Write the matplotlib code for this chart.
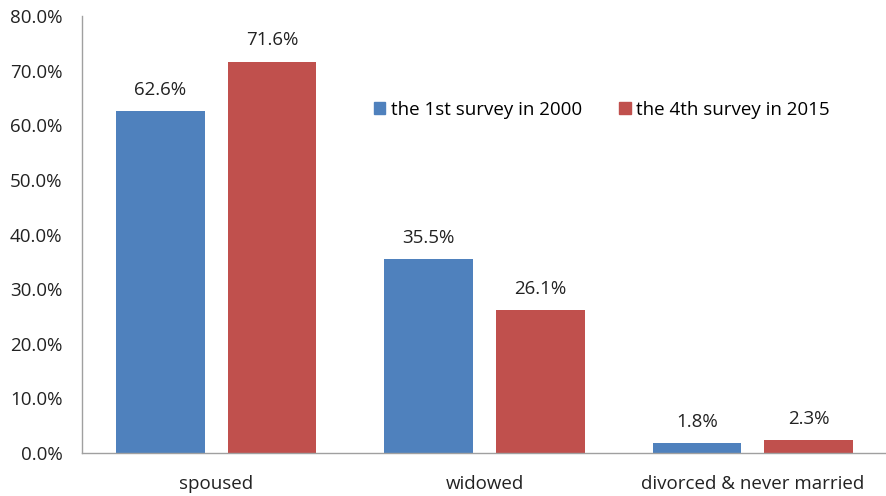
import matplotlib
matplotlib.use("Agg")
import matplotlib.pyplot as plt
import numpy as np
from matplotlib.patches import Patch

categories = ["spoused", "widowed", "divorced & never married"]
series_names = ["the 1st survey in 2000", "the 4th survey in 2015"]
survey_2000 = [62.6, 35.5, 1.8]
survey_2015 = [71.6, 26.1, 2.3]
yticks = [0, 10, 20, 30, 40, 50, 60, 70, 80]

blue = "#4F81BD"
red = "#C0504D"

plt.rcParams['font.family'] = ['Open Sans', 'DejaVu Sans']
FS = 13.5

fig = plt.figure(figsize=(8.87, 4.96), dpi=100)
ax = fig.add_axes([82/887, 1-453/496, (887-82)/887, (453-16)/496])

x = np.arange(len(categories))
w = 0.331
off = 0.208
b1 = ax.bar(x - off, survey_2000, w, color=blue)
b2 = ax.bar(x + off, survey_2015, w, color=red)

for bars, vals in ((b1, survey_2000), (b2, survey_2015)):
    for b, v in zip(bars, vals):
        ax.annotate(f"{v:.1f}%", (b.get_x() + b.get_width()/2, v),
                    xytext=(0, 9), textcoords="offset points",
                    ha="center", va="bottom", fontsize=FS, color="#222222")

ax.set_xlim(-0.5, 2.5)
ax.set_ylim(0, 80)
ax.set_yticks(yticks)
ax.set_yticklabels([f"{t:.1f}%" for t in yticks], fontsize=FS, color="#222222")
ax.set_xticks(x)
ax.set_xticklabels(categories, fontsize=FS, color="#222222")
ax.tick_params(axis='x', length=0, pad=16)
ax.tick_params(axis='y', length=0, pad=14)

for s in ("top", "right"):
    ax.spines[s].set_visible(False)
for s in ("left", "bottom"):
    ax.spines[s].set_color("#A0A0A0")
    ax.spines[s].set_linewidth(1)

handles = [Patch(color=blue), Patch(color=red)]
ax.legend(handles, series_names, loc="center",
          bbox_to_anchor=((602-82)/805, 1-(110-16)/437),
          ncol=2, frameon=False, fontsize=FS, handlelength=0.6, handleheight=0.6,
          handletextpad=0.3, columnspacing=2.0)

fig.savefig("out.png", dpi=100)
